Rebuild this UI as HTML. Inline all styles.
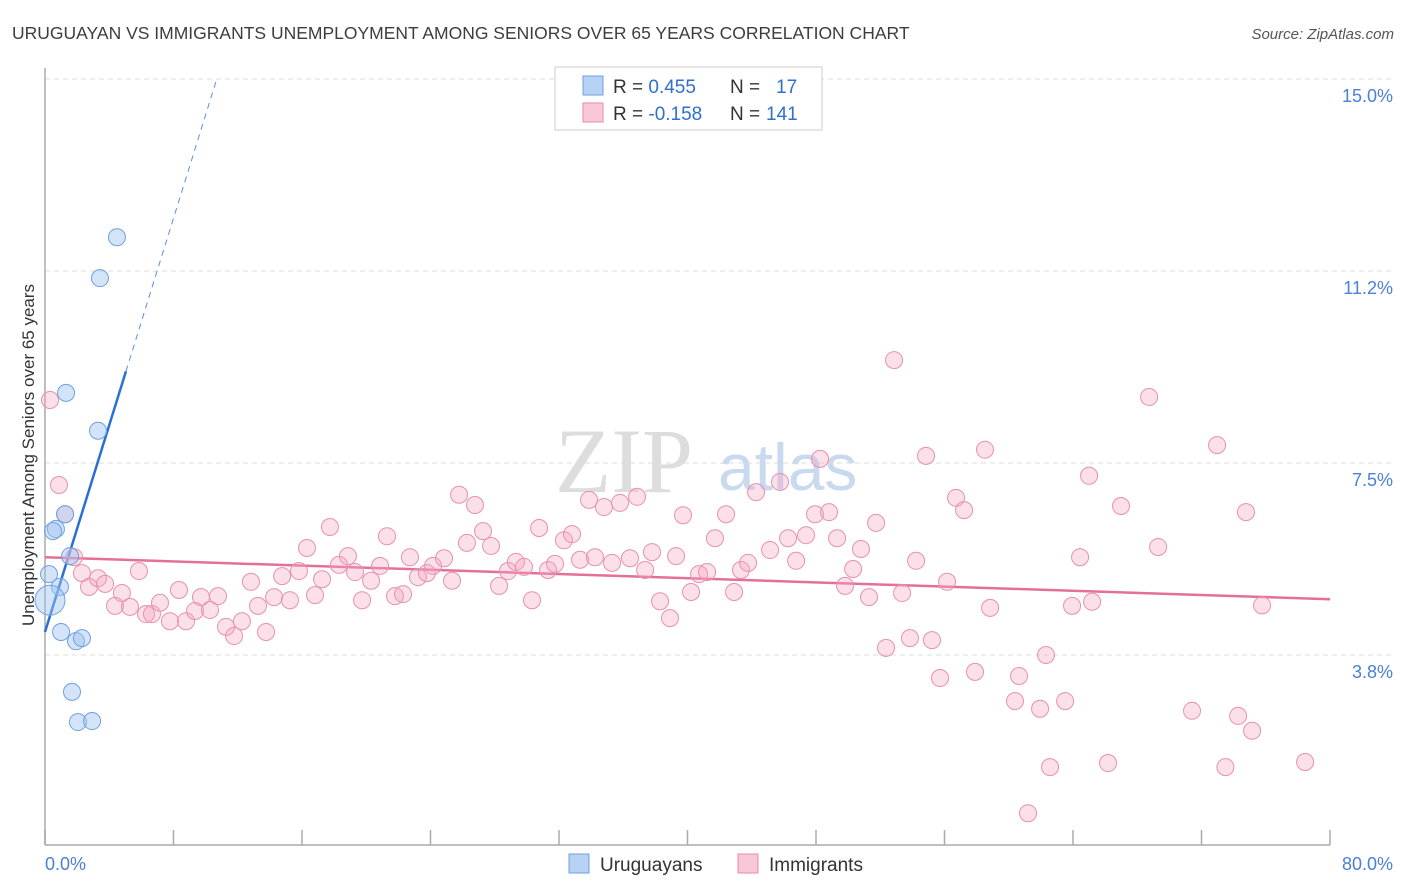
<!DOCTYPE html>
<html><head><meta charset="utf-8"><style>
body{margin:0;background:#fff;font-family:"Liberation Sans",sans-serif}
#c{position:relative;width:1406px;height:892px;overflow:hidden}
</style></head><body>
<div id="c">
<svg id="s" width="1406" height="892" xmlns="http://www.w3.org/2000/svg">
<text x="12" y="39" font-size="17.5" fill="#3d3d3d">URUGUAYAN VS IMMIGRANTS UNEMPLOYMENT AMONG SENIORS OVER 65 YEARS CORRELATION CHART</text>
<text x="1394" y="39" font-size="15" fill="#555" font-style="italic" text-anchor="end">Source: ZipAtlas.com</text>
<g>
<text x="555" y="492" font-size="92" font-family="Liberation Serif,serif" fill="#ddd">ZIP</text>
<text x="718" y="490" font-size="66" fill="#c8d9f0">atlas</text>
</g>
<g id="grid"></g><g id="axes"></g><g id="trend"></g><g id="pts"></g>
<text transform="translate(34,455) rotate(-90)" font-size="17" fill="#333" text-anchor="middle">Unemployment Among Seniors over 65 years</text>
<g>
<rect x="555" y="67" width="267" height="63" fill="#fff" stroke="#ccc"/>
<rect x="583" y="76" width="20" height="19" fill="#b7d2f5" stroke="#6fa0e0"/>
<rect x="583" y="103" width="20" height="19" fill="#f9c8d8" stroke="#e88aaa"/>
<text x="613" y="93" font-size="19" fill="#333">R = <tspan fill="#2f6fd0"> 0.455</tspan><tspan x="730">N = </tspan><tspan fill="#2f6fd0" x="776">17</tspan></text>
<text x="613" y="120" font-size="19" fill="#333">R = <tspan fill="#2f6fd0">-0.158</tspan><tspan x="730">N = </tspan><tspan fill="#2f6fd0" x="766">141</tspan></text>
</g>
<g>
<rect x="569" y="854" width="20" height="19" fill="#b7d2f5" stroke="#6fa0e0"/>
<text x="600" y="871" font-size="19" fill="#333">Uruguayans</text>
<rect x="738" y="854" width="20" height="19" fill="#f9c8d8" stroke="#e88aaa"/>
<text x="769" y="871" font-size="19" fill="#333">Immigrants</text>
</g>
</svg>
</div>
<script>
const yTicks=[3.8,7.5,11.2,15.0];
const yTickVals=[3.75,7.5,11.25,15.0];
const xTickLabels=["0.0%","80.0%"];
const blueX=[4.48,3.42,1.31,3.30,1.25,0.68,0.50,1.56,0.93,0.25,0.31,1.0,1.93,2.30,1.68,2.05,2.93];
const blueY=[11.91,11.11,8.87,8.13,6.50,6.21,6.17,5.68,5.08,5.33,4.82,4.20,4.02,4.08,3.03,2.44,2.46];
const pinkX=[0.31,0.87,1.25,1.81,2.30,2.74,3.30,3.74,4.36,4.79,5.29,5.85,6.29,6.66,7.16,7.78,8.34,8.78,9.34,9.71,10.27,10.77,11.27,11.77,12.26,12.82,13.26,13.76,14.26,14.76,15.25,15.81,16.31,16.81,17.25,17.74,18.30,18.86,19.30,19.74,20.30,20.86,21.29,21.79,22.29,22.72,23.22,23.78,24.16,24.84,25.34,25.78,26.27,26.77,27.27,27.77,28.27,28.83,29.32,29.82,30.32,30.76,31.32,31.75,32.31,32.81,33.31,33.87,34.24,34.80,35.30,35.80,36.42,36.86,37.36,37.79,38.29,38.91,39.29,39.72,40.22,40.72,41.22,41.71,42.40,42.90,43.33,43.77,44.27,45.14,45.76,46.26,46.76,47.38,47.94,48.25,48.81,49.31,49.81,50.31,50.80,51.30,51.74,52.36,52.86,53.36,53.85,54.23,54.85,55.22,55.72,56.16,56.72,57.22,57.90,58.52,58.84,60.39,60.64,61.20,61.95,62.32,62.57,63.51,63.94,64.44,65.00,65.19,66.18,66.99,68.74,69.30,71.41,72.97,73.49,74.28,74.77,75.15,75.77,78.45];
const pinkY=[8.73,7.07,6.50,5.66,5.35,5.08,5.25,5.14,4.71,4.96,4.69,5.39,4.55,4.55,4.77,4.41,5.02,4.41,4.61,4.88,4.63,4.90,4.30,4.12,4.41,5.18,4.71,4.20,4.88,5.29,4.82,5.39,5.84,4.92,5.23,6.25,5.51,5.68,5.37,4.82,5.20,5.49,6.07,4.90,4.94,5.66,5.27,5.35,5.49,5.64,5.20,6.88,5.94,6.68,6.17,5.88,5.10,5.39,5.57,5.47,4.82,6.23,5.41,5.53,5.99,6.11,5.61,6.78,5.66,6.64,5.55,6.72,5.64,6.84,5.41,5.76,4.80,4.47,5.68,6.48,4.98,5.33,5.37,6.03,6.50,4.98,5.41,5.55,6.93,5.80,7.13,6.03,5.59,6.09,6.50,7.58,6.54,6.03,5.10,5.43,5.82,4.88,6.33,3.89,9.51,4.96,4.08,5.59,7.64,4.04,3.30,5.18,6.82,6.58,3.42,7.76,4.67,2.85,3.34,0.66,2.70,3.75,1.56,2.85,4.71,5.66,7.25,4.79,1.64,6.66,8.79,5.86,2.66,7.85,1.56,2.56,6.54,2.27,4.72,1.66];
const blueTrend=[4.2,1.01]; // intercept, slope
const pinkTrend=[5.66,4.84]; // y at 0%, y at 80%
const NS="http://www.w3.org/2000/svg";
const X=v=>45+v/80*1285;
const Y=v=>655-(v-3.75)*51.2;
function mk(tag,attrs,parent){const e=document.createElementNS(NS,tag);for(const k in attrs)e.setAttribute(k,attrs[k]);document.getElementById(parent).appendChild(e);return e;}
yTickVals.forEach((v,i)=>{
 const l=mk('line',{x1:45,x2:1395,y1:Y(v),y2:Y(v),stroke:'#ddd','stroke-dasharray':'5,4'},'grid');
 
 
 const t=mk('text',{x:1393,y:Y(v)+23,'font-size':18,fill:'#4a80d8','text-anchor':'end'},'grid');
 t.textContent=yTicks[i].toFixed(1)+'%';
 
 
});
const ax=mk('line',{x1:45,x2:45,y1:68,y2:845,stroke:'#aaa','stroke-width':1.5},'axes');


const bx=mk('line',{x1:45,x2:1330,y1:845,y2:845,stroke:'#aaa','stroke-width':1.5},'axes');


for(let i=0;i<=10;i++){const t=mk('line',{x1:X(i*8),x2:X(i*8),y1:830,y2:845,stroke:'#aaa','stroke-width':1.5},'axes');
 
 }
[[0,45,'start'],[80,1393,'end']].forEach((a,i)=>{const t=mk('text',{x:a[1],y:870,'font-size':18,fill:'#4a80d8','text-anchor':a[2]},'axes');t.textContent=xTickLabels[i];
 
 });
const bl=mk('line',{x1:X(0),y1:Y(blueTrend[0]),x2:X(5.04),y2:Y(blueTrend[0]+blueTrend[1]*5.04),stroke:'#2a6fd6','stroke-width':2.5},'trend');


const bd=mk('line',{x1:X(5.04),y1:Y(blueTrend[0]+blueTrend[1]*5.04),x2:X(10.65),y2:Y(blueTrend[0]+blueTrend[1]*10.65),stroke:'#5a8fe0','stroke-width':1,'stroke-dasharray':'6,5'},'trend');


const pl=mk('line',{x1:X(0),y1:Y(pinkTrend[0]),x2:X(80),y2:Y(pinkTrend[1]),stroke:'#e4709a','stroke-width':2.5},'trend');


pinkX.forEach((x,i)=>{const c=mk('circle',{cx:X(x),cy:Y(pinkY[i]),r:8.5,fill:'rgba(244,165,192,0.35)',stroke:'#e890b0','stroke-width':1},'pts');
 
 });
blueX.forEach((x,i)=>{const c=mk('circle',{cx:X(x),cy:Y(blueY[i]),r:i==10?15:8.5,fill:'rgba(160,196,240,0.45)',stroke:'#6fa0e0','stroke-width':1},'pts');
 
 });
</script>
</body></html>
